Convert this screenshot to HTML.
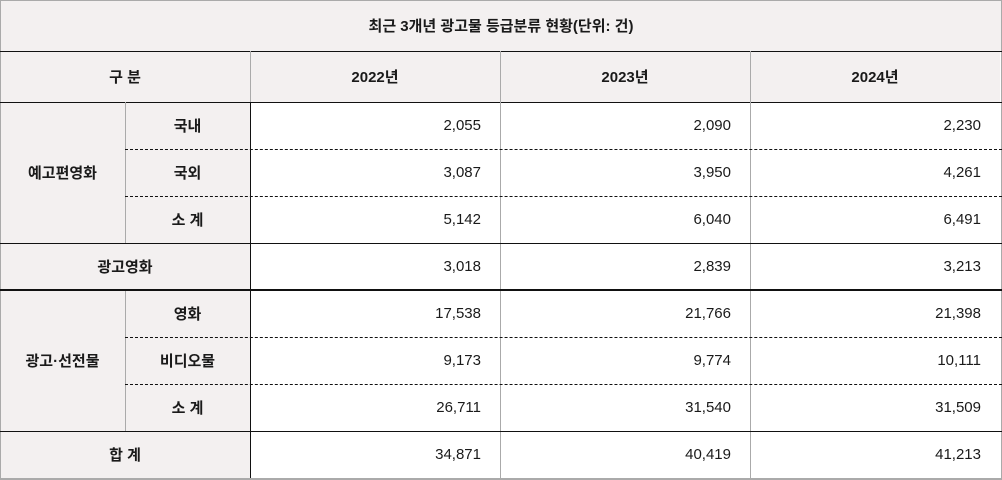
<!DOCTYPE html>
<html><head><meta charset="utf-8"><style>
body{margin:0;width:1002px;height:480px;overflow:hidden;background:#fff;font-family:"Liberation Sans","Noto Sans CJK KR",sans-serif;color:#1a1a1a}
#t{position:absolute;left:0;top:0;width:1002px;height:480px}
.c{position:absolute;display:flex;align-items:center;justify-content:center;font-size:15px;box-sizing:border-box}
.h{background:#f3f0f0;font-weight:bold}
.n{justify-content:flex-end;padding-right:19px;font-size:15px}
.l{position:absolute}
</style></head><body>
<div id="t"></div>
<script>
const years=["2022년","2023년","2024년"];
const rowLabels=["국내","국외","소 계","광고영화","영화","비디오물","소 계","합 계"];
const values=[[2055,2090,2230],[3087,3950,4261],[5142,6040,6491],[3018,2839,3213],[17538,21766,21398],[9173,9774,10111],[26711,31540,31509],[34871,40419,41213]];
const t=document.getElementById('t');
function cell(x,y,w,h,txt,cls,name){const d=document.createElement('div');d.className='c '+cls;d.style.cssText+=`left:${x}px;top:${y}px;width:${w}px;height:${h}px`;d.textContent=txt;


t.appendChild(d);return d;}
function line(x,y,w,h,c,dash){const d=document.createElement('div');d.className='l';d.style.cssText=`left:${x}px;top:${y}px;width:${w}px;height:${h}px;`+(dash?`border-top:1px dashed ${c}`:`background:${c}`);


t.appendChild(d);}
const ys=[102,149,196,243,290,337,384,431,478];
const cx=[250,500,750,1000];
cell(0,0,1002,51,'최근 3개년 광고물 등급분류 현황(단위: 건)','h','table-title');
cell(0,51,250,51,'구  분','h','header-category');
years.forEach((y,i)=>cell(cx[i],51,250,51,y,'h','header-year'));
// left label cells
cell(0,102,125,141,'예고편영화','h','group-trailer');
cell(0,290,125,141,'광고·선전물','h','group-promo');
cell(0,243,250,47,rowLabels[3],'h','row-label');
cell(0,431,250,47,rowLabels[7],'h','row-label');
[0,1,2,4,5,6].forEach(r=>cell(125,ys[r],125,ys[r+1]-ys[r],rowLabels[r],'h','row-label'));
values.forEach((row,r)=>row.forEach((v,i)=>cell(cx[i],ys[r],250,ys[r+1]-ys[r],v.toLocaleString('en-US'),'n','value-cell')));
// lines
line(0,0,1002,1,'#aaa');line(0,0,1,480,'#aaa');line(1001,0,1,480,'#aaa');line(0,478,1002,2,'#aaa');
line(0,51,1002,1,'#111');line(0,102,1002,1,'#111');
line(250,51,1,51,'#aaa');line(500,51,1,51,'#aaa');line(750,51,1,51,'#aaa');
line(250,102,1,376,'#111');line(500,102,1,376,'#aaa');line(750,102,1,376,'#aaa');
line(125,102,1,141,'#aaa');line(125,290,1,141,'#aaa');
[149,196,337,384].forEach(y=>line(125,y,877,1,'#111',true));
line(0,243,1002,1,'#111');line(0,289,1002,2,'#111');line(0,431,1002,1,'#111');
</script>
</body></html>
